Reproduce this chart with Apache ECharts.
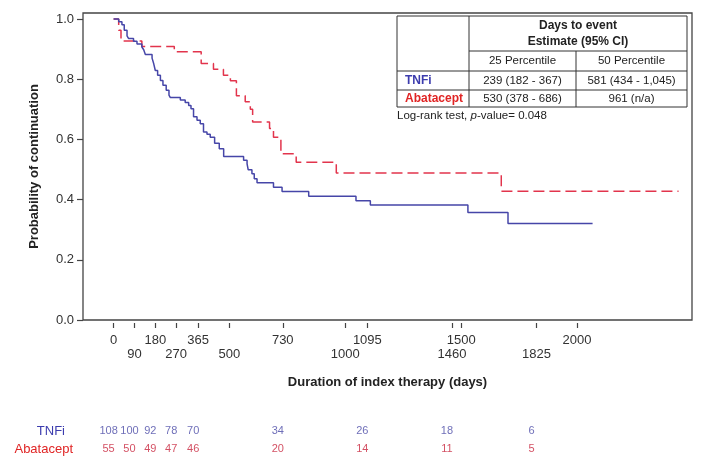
<!DOCTYPE html>
<html>
<head>
<meta charset="utf-8">
<script src="https://cdn.jsdelivr.net/npm/echarts@6/dist/echarts.min.js"></script>
<style>
html,body{margin:0;padding:0;background:#fff;}
#c{width:705px;height:466px;}
</style>
</head>
<body>
<div id="c"></div>
<script>
// ---- data ----
var tnfiDays = [0, 22, 36, 46, 58, 65, 86, 101, 122, 130, 137, 166, 173, 180, 190, 202, 213, 227, 239, 245, 288, 309, 324, 334, 345, 360, 374, 388, 403, 417, 436, 456, 475, 561, 576, 581, 597, 607, 619, 690, 727, 842, 1046, 1108, 1529, 1702, 2067];
var tnfiSurv = [1.0, 0.991, 0.981, 0.963, 0.944, 0.935, 0.926, 0.917, 0.907, 0.898, 0.882, 0.870, 0.852, 0.829, 0.813, 0.796, 0.780, 0.763, 0.747, 0.739, 0.731, 0.723, 0.713, 0.702, 0.675, 0.664, 0.652, 0.625, 0.617, 0.607, 0.587, 0.569, 0.543, 0.531, 0.519, 0.499, 0.486, 0.469, 0.456, 0.441, 0.427, 0.411, 0.396, 0.382, 0.357, 0.321, 0.321];

var abaDays = [0, 22, 32, 122, 262, 378, 431, 474, 504, 530, 568, 590, 600, 673, 690, 722, 788, 961, 1673, 2438];
var abaSurv = [1.0, 0.963, 0.927, 0.909, 0.891, 0.852, 0.833, 0.813, 0.795, 0.745, 0.725, 0.700, 0.658, 0.636, 0.607, 0.552, 0.524, 0.488, 0.428, 0.428];

var xTicks = [0, 90, 180, 270, 365, 500, 730, 1000, 1095, 1460, 1500, 1825, 2000];
var xTicksUpper = [0, 180, 365, 730, 1095, 1500, 2000];
var yTicks = [0, 0.2, 0.4, 0.6, 0.8, 1.0];

var riskDays = [0, 90, 180, 270, 365, 730, 1095, 1460, 1825];
var tnfiRisk = [108, 100, 92, 78, 70, 34, 26, 18, 6];
var abaRisk = [55, 50, 49, 47, 46, 20, 14, 11, 5];

var groups = ['TNFi', 'Abatacept'];
var pct25 = ['239 (182 - 367)', '530 (378 - 686)'];
var pct50 = ['581 (434 - 1,045)', '961 (n/a)'];
var pValue = '0.048';

// ---- style ----
var FONT = 'Liberation Sans, Arial, sans-serif';
var BLUE = '#4646a8';
var RED = '#e2344c';
var BLUE_TXT = '#3c3cae';
var RED_TXT = '#e02424';
var NUM_BLUE = '#4a4aa6';
var NUM_RED = '#c8243c';

function zip(a, b) { return a.map(function (v, i) { return [v, b[i]]; }); }

var chart = echarts.init(document.getElementById('c'), null, {renderer: 'canvas'});

// table geometry (annotation inside plot)
var tL = 397, tR = 687, tC1 = 469, tC2 = 576, tT = 16, r1 = 51, r2 = 71, r3 = 90, tB = 107;
var lineStyle = {stroke: '#333', lineWidth: 1};
function hline(x1, x2, y) { return {type: 'line', shape: {x1: x1, y1: y, x2: x2, y2: y}, style: lineStyle, z: 10}; }
function vline(x, y1, y2) { return {type: 'line', shape: {x1: x, y1: y1, x2: x, y2: y2}, style: lineStyle, z: 10}; }
function txt(x, y, s, opt) {
  opt = opt || {};
  return {type: 'text', x: x, y: y, z: 11, style: {
    text: s, font: (opt.weight || 'normal') + ' ' + (opt.size || 12) + 'px ' + FONT,
    fill: opt.color || '#222', align: opt.align || 'center', verticalAlign: 'middle'
  }};
}

var graphics = [
  {type: 'rect', shape: {x: tL, y: tT, width: tR - tL, height: tB - tT}, style: {fill: '#fff', stroke: '#333', lineWidth: 1}, z: 9},
  vline(tC1, tT, tB),
  vline(tC2, r1, tB),
  hline(tC1, tR, r1),
  hline(tL, tR, r2),
  hline(tL, tR, r3),
  txt((tC1 + tR) / 2, 26, 'Days to event', {weight: 'bold', size: 12}),
  txt((tC1 + tR) / 2, 42, 'Estimate (95% CI)', {weight: 'bold', size: 12}),
  txt((tC1 + tC2) / 2, 61, '25 Percentile', {size: 11.5}),
  txt((tC2 + tR) / 2, 61, '50 Percentile', {size: 11.5}),
  txt(405, 80.5, groups[0], {weight: 'bold', size: 12, color: BLUE_TXT, align: 'left'}),
  txt(405, 99, groups[1], {weight: 'bold', size: 12, color: RED_TXT, align: 'left'}),
  txt((tC1 + tC2) / 2, 80.5, pct25[0], {size: 11.5}),
  txt((tC2 + tR) / 2, 80.5, pct50[0], {size: 11.5}),
  txt((tC1 + tC2) / 2, 99, pct25[1], {size: 11.5}),
  txt((tC2 + tR) / 2, 99, pct50[1], {size: 11.5}),
  {type: 'text', x: 397, y: 116, z: 11, style: {
    text: '{n|Log-rank test, }{i|p}{n|-value= ' + pValue + '}',
    verticalAlign: 'middle', align: 'left',
    rich: {
      n: {font: 'normal 11.5px ' + FONT, fill: '#222'},
      i: {font: 'italic 11.5px ' + FONT, fill: '#222'}
    }
  }}
];

var option = {
  animation: false,
  backgroundColor: '#fff',
  textStyle: {fontFamily: FONT},
  grid: [
    {left: 83, right: 13, top: 13, bottom: 146, show: true, borderColor: '#444', borderWidth: 1.3, backgroundColor: 'transparent'},
    {left: 83, right: 13, top: 422, bottom: 8}
  ],
  xAxis: [
    {
      gridIndex: 0, type: 'value', min: -132, max: 2496, offset: 3,
      name: 'Duration of index therapy (days)', nameLocation: 'middle', nameGap: 53,
      nameTextStyle: {fontWeight: 'bold', fontSize: 13, color: '#222', fontFamily: FONT},
      axisLine: {show: false, onZero: false},
      axisTick: {show: true, length: 5, customValues: xTicks, lineStyle: {color: '#444', width: 1.2}},
      axisLabel: {
        customValues: xTicks, margin: 10, fontSize: 13, color: '#333', lineHeight: 14, fontFamily: FONT,
        formatter: function (v) { return xTicksUpper.indexOf(v) >= 0 ? String(v) : '\n' + v; }
      },
      splitLine: {show: false}
    },
    {gridIndex: 1, type: 'value', min: -132, max: 2496, show: false}
  ],
  yAxis: [
    {
      gridIndex: 0, type: 'value', min: 0, max: 1.02,
      name: 'Probability of continuation', nameLocation: 'middle', nameRotate: 90, nameGap: 42,
      nameTextStyle: {fontWeight: 'bold', fontSize: 13, color: '#222', fontFamily: FONT},
      axisLine: {show: false, onZero: false},
      axisTick: {show: true, length: 6, customValues: yTicks, lineStyle: {color: '#444', width: 1.2}},
      axisLabel: {customValues: yTicks, margin: 9, fontSize: 13, color: '#333', fontFamily: FONT,
        formatter: function (v) { return v.toFixed(1); }},
      splitLine: {show: false}
    },
    {
      gridIndex: 1, type: 'category', data: groups, inverse: true,
      axisLine: {show: false, onZero: false}, axisTick: {show: false}, splitLine: {show: false},
      axisLabel: {
        margin: 10, fontSize: 13, fontFamily: FONT,
        formatter: function (v) { return v === groups[0] ? '{t|' + v + '}' : '{a|' + v + '}'; },
        rich: {
          t: {color: BLUE_TXT, fontSize: 13, padding: [0, 8, 0, 0], fontFamily: FONT},
          a: {color: RED_TXT, fontSize: 13, fontFamily: FONT}
        }
      }
    }
  ],
  series: [
    {
      name: groups[1], type: 'line', xAxisIndex: 0, yAxisIndex: 0, step: 'end', showSymbol: false, symbol: 'none',
      data: zip(abaDays, abaSurv), lineStyle: {color: RED, width: 1.5, type: [11, 5]}, z: 3
    },
    {
      name: groups[0], type: 'line', xAxisIndex: 0, yAxisIndex: 0, step: 'end', showSymbol: false, symbol: 'none',
      data: zip(tnfiDays, tnfiSurv), lineStyle: {color: BLUE, width: 1.5}, z: 4
    },
    {
      type: 'scatter', xAxisIndex: 1, yAxisIndex: 1, symbolSize: 0, silent: true,
      data: riskDays.map(function (d, i) { return [d, groups[0], tnfiRisk[i]]; }),
      label: {show: true, position: 'inside', offset: [-5, 0], fontSize: 11, color: NUM_BLUE, fontFamily: FONT,
        formatter: function (p) { return String(p.value[2]); }}
    },
    {
      type: 'scatter', xAxisIndex: 1, yAxisIndex: 1, symbolSize: 0, silent: true,
      data: riskDays.map(function (d, i) { return [d, groups[1], abaRisk[i]]; }),
      label: {show: true, position: 'inside', offset: [-5, 0], fontSize: 11, color: NUM_RED, fontFamily: FONT,
        formatter: function (p) { return String(p.value[2]); }}
    }
  ],
  graphic: graphics
};
chart.setOption(option);
</script>
</body>
</html>
